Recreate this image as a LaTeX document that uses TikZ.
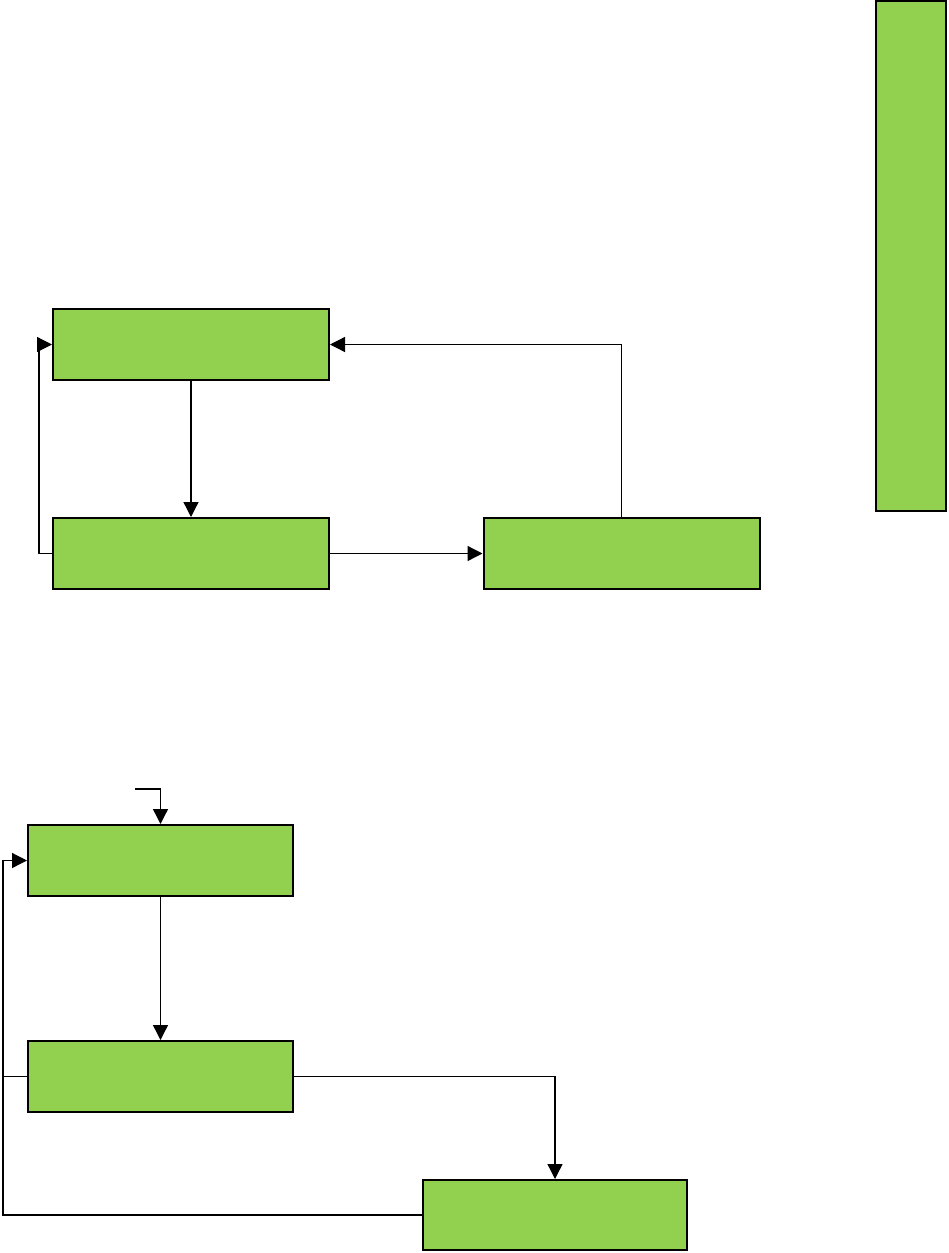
\documentclass[tikz,border=0pt]{standalone}
\usetikzlibrary{arrows.meta}
\definecolor{boxgreen}{HTML}{92D050}
\begin{document}
\begin{tikzpicture}[x=1pt,y=-1pt,
  box/.style={draw=black,fill=boxgreen,line width=2pt,inner sep=0pt,minimum width=276pt,minimum height=71pt},
  conn/.style={draw=black,line width=1.3pt},
  arr/.style={conn,-{Triangle[length=15pt,width=15pt]}}]
\useasboundingbox (0,0) rectangle (948,1253);
% top group
\node[box] (A) at (191,344.5) {};
\node[box] (B) at (191,553.5) {};
\node[box] (C) at (621.5,553.5) {};
\node[box,minimum width=70pt,minimum height=510pt] (S) at (911,256) {};
\draw[arr] (A.south) -- (B.north);
\draw[arr] (B.west) -- ++(-13,0) |- (A.west);
\draw[arr] (C.north) |- (A.east);
\draw[arr] (B.east) -- (C.west);
% bottom group
\node[box,minimum width=265pt] (D) at (160.5,860.5) {};
\node[box,minimum width=265pt] (E) at (160.5,1076.5) {};
\node[box,minimum width=264pt,minimum height=70pt] (F) at (555,1215) {};
\coordinate (in) at (135,789);
\coordinate (fb) at (3,1215);
\draw[arr] (in) -| (D.north);
\draw[arr] (D.south) -- (E.north);
\draw[arr] (E.east) -| (F.north);
\draw[arr] (F.west) -- (fb) |- (D.west);
\draw[conn] (E.west) -- (E.west -| fb);
\end{tikzpicture}
\end{document}
